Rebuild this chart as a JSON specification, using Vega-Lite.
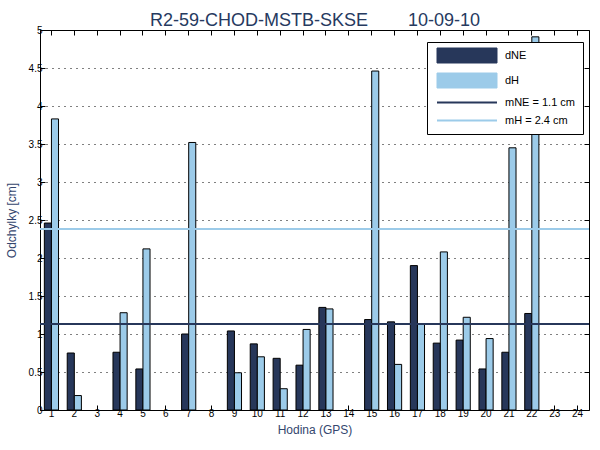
{
  "$schema": "https://vega.github.io/schema/vega-lite/v6.json",
  "width": 549,
  "height": 380,
  "autosize": {"type": "none"},
  "padding": {"left": 40, "top": 30, "right": 11, "bottom": 40},
  "background": "white",
  "config": {
    "font": "Liberation Sans",
    "view": {"stroke": "black", "strokeWidth": 1},
    "axis": {
      "domain": false,
      "tickColor": "black",
      "tickSize": -5,
      "labelColor": "black",
      "labelFontSize": 10,
      "labelFont": "Liberation Sans",
      "titleFont": "Liberation Sans",
      "titleFontSize": 12,
      "titleFontWeight": "normal",
      "titleColor": "#34466e"
    }
  },
  "datasets": {
    "bars": [
      {"hour": 1, "series": "dNE", "value": 2.46}, {"hour": 1, "series": "dH", "value": 3.83},
      {"hour": 2, "series": "dNE", "value": 0.75}, {"hour": 2, "series": "dH", "value": 0.19},
      {"hour": 4, "series": "dNE", "value": 0.76}, {"hour": 4, "series": "dH", "value": 1.28},
      {"hour": 5, "series": "dNE", "value": 0.54}, {"hour": 5, "series": "dH", "value": 2.12},
      {"hour": 7, "series": "dNE", "value": 1.00}, {"hour": 7, "series": "dH", "value": 3.52},
      {"hour": 9, "series": "dNE", "value": 1.04}, {"hour": 9, "series": "dH", "value": 0.49},
      {"hour": 10, "series": "dNE", "value": 0.87}, {"hour": 10, "series": "dH", "value": 0.70},
      {"hour": 11, "series": "dNE", "value": 0.68}, {"hour": 11, "series": "dH", "value": 0.28},
      {"hour": 12, "series": "dNE", "value": 0.59}, {"hour": 12, "series": "dH", "value": 1.06},
      {"hour": 13, "series": "dNE", "value": 1.35}, {"hour": 13, "series": "dH", "value": 1.33},
      {"hour": 15, "series": "dNE", "value": 1.19}, {"hour": 15, "series": "dH", "value": 4.46},
      {"hour": 16, "series": "dNE", "value": 1.16}, {"hour": 16, "series": "dH", "value": 0.60},
      {"hour": 17, "series": "dNE", "value": 1.90}, {"hour": 17, "series": "dH", "value": 1.13},
      {"hour": 18, "series": "dNE", "value": 0.88}, {"hour": 18, "series": "dH", "value": 2.08},
      {"hour": 19, "series": "dNE", "value": 0.92}, {"hour": 19, "series": "dH", "value": 1.22},
      {"hour": 20, "series": "dNE", "value": 0.54}, {"hour": 20, "series": "dH", "value": 0.94},
      {"hour": 21, "series": "dNE", "value": 0.76}, {"hour": 21, "series": "dH", "value": 3.45},
      {"hour": 22, "series": "dNE", "value": 1.27}, {"hour": 22, "series": "dH", "value": 4.91}
    ],
    "means": [
      {"series": "mNE = 1.1 cm", "value": 1.13},
      {"series": "mH = 2.4 cm", "value": 2.38}
    ]
  },
  "layer": [
    {
      "data": {"name": "bars"},
      "mark": {"type": "bar", "stroke": "black", "strokeWidth": 1},
      "encoding": {
        "x": {
          "field": "hour",
          "type": "ordinal",
          "scale": {
            "domain": [1, 2, 3, 4, 5, 6, 7, 8, 9, 10, 11, 12, 13, 14, 15, 16, 17, 18, 19, 20, 21, 22, 23, 24],
            "paddingInner": 0.38,
            "paddingOuter": 0.19
          },
          "axis": {
            "orient": "bottom",
            "title": "Hodina (GPS)",
            "labelAngle": 0,
            "grid": false,
            "labelPadding": 3,
            "titlePadding": 6
          }
        },
        "xOffset": {
          "field": "series",
          "type": "nominal",
          "scale": {"domain": ["dNE", "dH"], "paddingInner": 0, "paddingOuter": 0}
        },
        "y": {
          "field": "value",
          "type": "quantitative",
          "scale": {"domain": [0, 5], "nice": false},
          "axis": {
            "orient": "left",
            "title": "Odchylky [cm]",
            "values": [0, 0.5, 1, 1.5, 2, 2.5, 3, 3.5, 4, 4.5, 5],
            "format": "~g",
            "grid": true,
            "gridColor": "black",
            "gridDash": [1, 5],
            "labelPadding": 3,
            "titlePadding": 10
          }
        },
        "color": {
          "field": "series",
          "type": "nominal",
          "scale": {
            "domain": ["dNE", "dH", "mNE = 1.1 cm", "mH = 2.4 cm"],
            "range": ["#27375a", "#9ccbe9", "#27375a", "#9ccbe9"]
          },
          "legend": {
            "title": null,
            "orient": "none",
            "legendX": 387,
            "legendY": 12,
            "strokeColor": "black",
            "fillColor": "white",
            "padding": 8,
            "labelFontSize": 11,
            "labelColor": "black",
            "labelOffset": 55,
            "symbolOffset": 4,
            "rowPadding": 6,
            "symbolSize": 225,
            "encoding": {
              "symbols": {
                "shape": {"value": {"expr": "indexof(['dNE','dH'], datum.value) >= 0 ? 'M-1,-1H7V1H-1Z' : 'M-1,0H7'"}},
                "fill": {"value": {"expr": "datum.value == 'dNE' ? '#27375a' : datum.value == 'dH' ? '#9ccbe9' : 'transparent'"}},
                "stroke": {"value": {"expr": "indexof(['dNE','dH'], datum.value) >= 0 ? 'black' : datum.value == 'mNE = 1.1 cm' ? '#27375a' : '#9ccbe9'"}},
                "strokeWidth": {"value": {"expr": "indexof(['dNE','dH'], datum.value) >= 0 ? 1 : 2"}},
                "opacity": {"value": 1}
              }
            }
          }
        }
      }
    },
    {
      "data": {"name": "means"},
      "mark": {"type": "rule", "strokeWidth": 2},
      "encoding": {
        "y": {"field": "value", "type": "quantitative", "axis": null},
        "color": {"field": "series", "type": "nominal"}
      }
    },
    {
      "data": {"name": "bars"},
      "mark": {"type": "bar", "opacity": 0},
      "encoding": {
        "x": {
          "field": "hour",
          "type": "ordinal",
          "axis": {
            "orient": "top",
            "labels": false,
            "grid": false,
            "minExtent": 0,
            "title": "R2-59-CHOD-MSTB-SKSE\u00a0\u00a0\u00a0\u00a0\u00a0\u00a0\u00a0\u00a010-09-10",
            "titleFontSize": 18,
            "titleColor": "#263a5f",
            "titleBaseline": "alphabetic",
            "titlePadding": 4
          }
        },
        "y": {
          "field": "value",
          "type": "quantitative",
          "axis": {
            "orient": "right",
            "labels": false,
            "title": null,
            "grid": false,
            "minExtent": 0,
            "values": [0, 0.5, 1, 1.5, 2, 2.5, 3, 3.5, 4, 4.5, 5]
          }
        }
      }
    }
  ],
  "resolve": {"axis": {"x": "independent", "y": "independent"}}
}
